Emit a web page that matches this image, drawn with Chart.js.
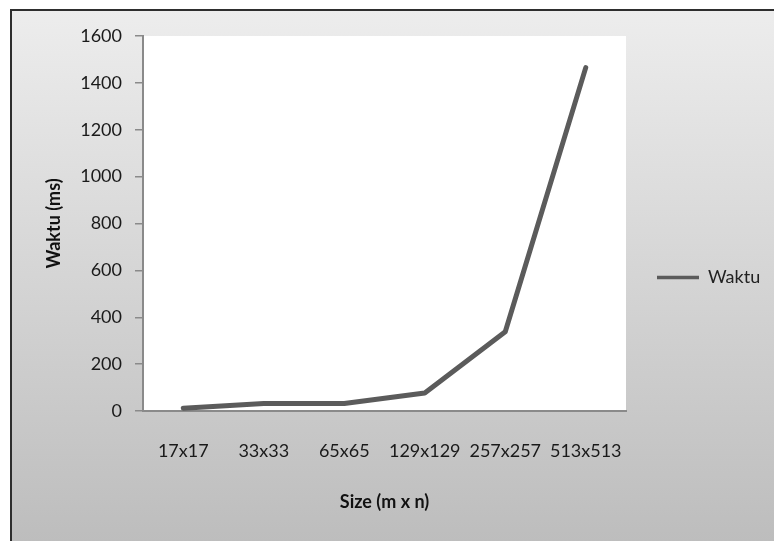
<!DOCTYPE html>
<html>
<head>
<meta charset="utf-8">
<title>Waktu</title>
<script src="https://cdn.jsdelivr.net/npm/chart.js@4.4.1/dist/chart.umd.min.js"></script>
<style>
  html, body { margin: 0; padding: 0; background: #ffffff; }
  #wrap { position: relative; width: 774px; height: 541px; }
  canvas { display: block; }
</style>
</head>
<body>
<div id="wrap"><canvas id="c" width="774" height="541"></canvas></div>
<script>
// Grid sizes and measured run time
const categories = ['17x17', '33x33', '65x65', '129x129', '257x257', '513x513'];
const waktu = [12, 32, 32, 77, 338, 1465];
const yTicks = [0, 200, 400, 600, 800, 1000, 1200, 1400, 1600];

const FONT = 'Lato, "Open Sans", "DejaVu Sans", sans-serif';
const AXIS_GRAY = '#8a8a8a';
const LINE_GRAY = '#5b5b5b';

// Grey gradient frame and white plot area behind everything
const frame = {
  id: 'frame',
  beforeDraw(chart) {
    const { ctx, width, height, chartArea } = chart;
    ctx.save();
    ctx.fillStyle = '#ffffff';
    ctx.fillRect(0, 0, width, height);
    const g = ctx.createLinearGradient(0, 9, 0, height);
    g.addColorStop(0, '#ededed');
    g.addColorStop(1, '#bdbdbd');
    ctx.fillStyle = g;
    ctx.fillRect(10, 9, width - 10, height - 9);
    ctx.fillStyle = '#2e2e2e';
    ctx.fillRect(10, 9, width - 10, 2);
    ctx.fillRect(10, 9, 2, height - 9);
    ctx.fillStyle = '#ffffff';
    ctx.fillRect(chartArea.left, chartArea.top,
                 chartArea.right - chartArea.left, chartArea.bottom - chartArea.top);
    ctx.restore();
  }
};

// Fixed legend column width on the right, legend lifted a little
const legendBox = {
  id: 'legendBox',
  beforeLayout(chart) {
    const lg = chart.legend;
    if (lg && !lg._fixedWidth) {
      const fit = lg.fit.bind(lg);
      lg.fit = function () { fit(); this.width = 774 - 626; };
      lg._fixedWidth = true;
    }
  },
  afterLayout(chart) {
    const lg = chart.legend;
    if (lg) { lg.top -= 11; lg.bottom -= 11; }
  }
};

new Chart(document.getElementById('c'), {
  type: 'line',
  data: {
    labels: categories,
    datasets: [{
      label: 'Waktu',
      data: waktu,
      borderColor: LINE_GRAY,
      backgroundColor: LINE_GRAY,
      borderWidth: 5,
      borderCapStyle: 'round',
      borderJoinStyle: 'round',
      pointRadius: 0,
      pointHoverRadius: 0,
      tension: 0,
      fill: false
    }]
  },
  options: {
    responsive: false,
    animation: false,
    layout: { padding: { left: 12, top: 36, right: 0, bottom: 0 } },
    scales: {
      x: {
        type: 'category',
        offset: true,
        grid: { display: false },
        border: { display: true, color: AXIS_GRAY, width: 2 },
        ticks: {
          color: '#1a1a1a',
          font: { family: FONT, size: 18 },
          padding: 21,
          maxRotation: 0,
          minRotation: 0,
          autoSkip: false
        },
        title: {
          display: true,
          text: 'Size (m x n)',
          color: '#111111',
          font: { family: FONT, size: 18, weight: 'bold' },
          padding: { top: 0, bottom: 28 }
        },
        afterFit(scale) { scale.height = 541 - 411; }
      },
      y: {
        min: 0,
        max: 1600,
        afterBuildTicks(scale) { scale.ticks = yTicks.map(v => ({ value: v })); },
        grid: {
          display: true,
          drawOnChartArea: false,
          drawTicks: true,
          tickLength: 8,
          color: AXIS_GRAY,
          lineWidth: 1.5
        },
        border: { display: true, color: AXIS_GRAY, width: 2 },
        ticks: {
          color: '#1a1a1a',
          font: { family: FONT, size: 18 },
          padding: 13,
          callback: (v) => String(v)
        },
        title: {
          display: true,
          text: 'Waktu (ms)',
          color: '#111111',
          font: { family: FONT, size: 18, weight: 'bold' },
          padding: { top: 31, bottom: 0 }
        },
        afterFit(scale) { scale.width = 143 - 12; }
      }
    },
    plugins: {
      legend: {
        position: 'right',
        labels: {
          usePointStyle: true,
          pointStyle: 'line',
          pointStyleWidth: 42,
          padding: 31,
          color: '#222222',
          font: { family: FONT, size: 18 },
          generateLabels(chart) {
            const items = Chart.defaults.plugins.legend.labels.generateLabels(chart);
            items.forEach(it => { it.lineWidth = 3.5; it.strokeStyle = LINE_GRAY; });
            return items;
          }
        }
      },
      tooltip: { enabled: false }
    }
  },
  plugins: [frame, legendBox]
});
</script>
</body>
</html>
